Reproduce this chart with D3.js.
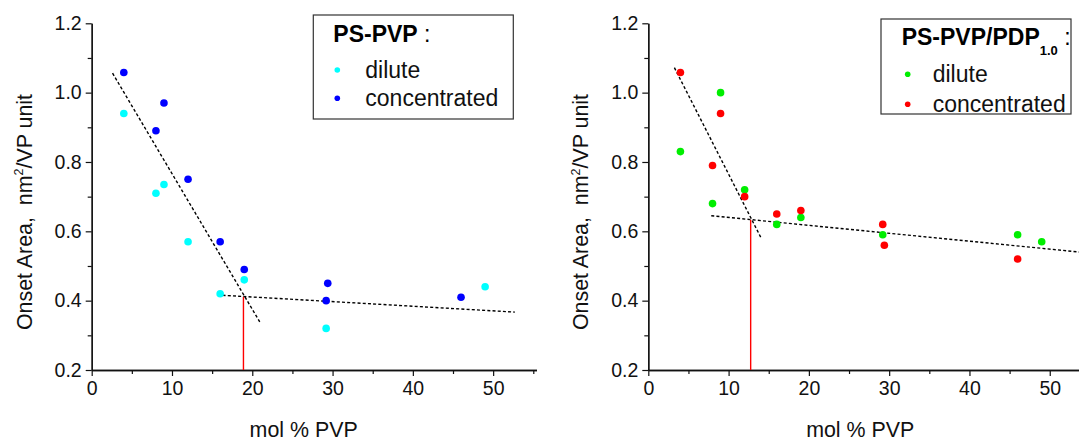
<!DOCTYPE html>
<html>
<head>
<meta charset="utf-8">
<script src="https://cdn.jsdelivr.net/npm/d3@7"></script>
<style>
  html, body { margin: 0; padding: 0; background: #fff; }
  svg { display: block; font-family: "Liberation Sans", Arial, Helvetica, sans-serif; }
  text { white-space: pre; }
</style>
</head>
<body>
<svg id="chart" width="1079" height="442"></svg>
<script>
// Tick values
const xMajorTicks = [0, 10, 20, 30, 40, 50];
const xMinorTicks = [5, 15, 25, 35, 45, 55];
const yMajorTicks = [0.2, 0.4, 0.6, 0.8, 1.0, 1.2];
const yMinorTicks = [0.3, 0.5, 0.7, 0.9, 1.1];

// PS-PVP: onset area vs. mol % PVP
const psDiluteX = [4, 8, 9, 12, 16, 19, 29.2, 49];
const psDiluteY = [0.94, 0.71, 0.735, 0.57, 0.42, 0.46, 0.32, 0.44];
const psConcX = [4, 8, 9, 12, 16, 19, 29.4, 29.2, 46];
const psConcY = [1.058, 0.89, 0.97, 0.75, 0.57, 0.49, 0.45, 0.40, 0.41];
const psSteepFit = [[2.6, 1.056], [21.0, 0.336]];
const psShallowFit = [[16.3, 0.4155], [52.7, 0.367]];
const psOnset = [18.9, 0.411];

// PS-PVP/PDP1.0: onset area vs. mol % PVP
const pdpDiluteX = [4, 8, 9, 12, 16, 19, 29.2, 46, 49];
const pdpDiluteY = [0.83, 0.68, 1.0, 0.72, 0.62, 0.64, 0.59, 0.59, 0.57];
const pdpConcX = [4, 8, 9, 12, 16, 19, 29.2, 29.4, 46];
const pdpConcY = [1.058, 0.79, 0.94, 0.70, 0.65, 0.66, 0.62, 0.56, 0.52];
const pdpSteepFit = [[3.25, 1.072], [14.0, 0.583]];
const pdpShallowFit = [[7.84, 0.645], [56, 0.535]];
const pdpOnset = [12.75, 0.633];

const svg = d3.select("#chart");
const FONT = '"Liberation Sans", Arial, Helvetica, sans-serif';

const xDomain = [0, 55.4];
const plotWidth = 444.8;   // px spanned by xDomain
const yTop = 23.3, yBottom = 370;

function drawPanel(cfg) {
  const x = d3.scaleLinear().domain(xDomain).range([cfg.left, cfg.left + plotWidth]);
  const y = d3.scaleLinear().domain([0.2, 1.2]).range([yBottom, yTop]);
  const g = svg.append("g");

  // y axis: major + minor ticks
  g.append("g").attr("transform", `translate(${cfg.left},0)`)
    .call(d3.axisLeft(y).tickValues(yMajorTicks).tickSize(6).tickSizeOuter(0)
      .tickPadding(4).tickFormat(d3.format(".1f")));
  g.append("g").attr("transform", `translate(${cfg.left},0)`)
    .call(d3.axisLeft(y).tickValues(yMinorTicks).tickSize(4).tickSizeOuter(0).tickFormat(""));

  // x axis: major + minor ticks
  g.append("g").attr("transform", `translate(0,${yBottom})`)
    .call(d3.axisBottom(x).tickValues(xMajorTicks).tickSize(6).tickSizeOuter(0)
      .tickPadding(5).tickFormat(d3.format("d")));
  g.append("g").attr("transform", `translate(0,${yBottom})`)
    .call(d3.axisBottom(x).tickValues(xMinorTicks).tickSize(4).tickSizeOuter(0).tickFormat(""));

  g.selectAll(".domain").attr("stroke", "#111").attr("stroke-width", 1.3);
  g.selectAll(".tick line").attr("stroke", "#111").attr("stroke-width", 1.2);
  g.selectAll(".tick text").attr("font-family", FONT).attr("font-size", 19.5).attr("fill", "#111");

  // fitted trend lines
  const line = d3.line().x(d => x(d[0])).y(d => y(d[1]));
  [cfg.steep, cfg.shallow].forEach(seg => {
    g.append("path").attr("d", line(seg)).attr("fill", "none")
      .attr("stroke", "#000").attr("stroke-width", 1.4).attr("stroke-dasharray", "3,2.2");
  });

  // onset marker: vertical red line from the x axis to the intersection
  g.append("line")
    .attr("x1", x(cfg.onset[0])).attr("x2", x(cfg.onset[0]))
    .attr("y1", y(0.2)).attr("y2", y(cfg.onset[1]))
    .attr("stroke", "#ff0000").attr("stroke-width", 1.4);

  // data points
  cfg.series.forEach(s => {
    g.selectAll(null).data(d3.zip(s.xs, s.ys)).join("circle")
      .attr("cx", d => x(d[0])).attr("cy", d => y(d[1]))
      .attr("r", 3.8).attr("fill", s.color);
  });

  // axis titles
  g.append("text")
    .attr("x", x(26.4)).attr("y", 437)
    .attr("text-anchor", "middle").attr("font-family", FONT)
    .attr("font-size", 21.4).attr("fill", "#111").text("mol % PVP");

  const yt = g.append("text")
    .attr("transform", `translate(${cfg.left - 60},212) rotate(-90)`)
    .attr("text-anchor", "middle").attr("font-family", FONT)
    .attr("font-size", 21.4).attr("fill", "#111");
  yt.append("tspan").text("Onset Area,  nm");
  yt.append("tspan").attr("font-size", 12.5).attr("dy", -8.5).text("2");
  yt.append("tspan").attr("dy", 8.5).text("/VP unit");

  // legend
  const L = cfg.legend;
  const lg = g.append("g");
  lg.append("rect").attr("x", L.x).attr("y", L.y).attr("width", L.w).attr("height", L.h)
    .attr("fill", "#fff").attr("stroke", "#333").attr("stroke-width", 1.2);
  const title = lg.append("text").attr("x", L.x + L.titleDx).attr("y", L.y + L.titleDy)
    .attr("font-family", FONT).attr("font-size", 23).attr("font-weight", "bold").attr("fill", "#000");
  title.append("tspan").text(cfg.title);
  if (cfg.titleSub) {
    title.append("tspan").attr("font-size", 13).attr("dy", 10).text(cfg.titleSub);
    title.append("tspan").attr("dy", -10).attr("font-weight", "normal").text(" :");
  } else {
    title.append("tspan").attr("font-weight", "normal").text(" :");
  }
  cfg.series.forEach((s, i) => {
    const cy = L.y + L.row0 + i * L.rowGap;
    lg.append("circle").attr("cx", L.x + L.dotDx).attr("cy", cy).attr("r", 2.8).attr("fill", s.color);
    lg.append("text").attr("x", L.x + L.textDx).attr("y", cy + 7.5)
      .attr("font-family", FONT).attr("font-size", 23).attr("fill", "#111").text(s.name);
  });
}

drawPanel({
  left: 91.7,
  title: "PS-PVP",
  series: [
    { name: "dilute", xs: psDiluteX, ys: psDiluteY, color: "#00ffff" },
    { name: "concentrated", xs: psConcX, ys: psConcY, color: "#0000ff" }
  ],
  steep: psSteepFit, shallow: psShallowFit, onset: psOnset,
  legend: { x: 313.3, y: 15, w: 200, h: 104, titleDx: 20, titleDy: 27, dotDx: 24, textDx: 52, row0: 55, rowGap: 28.3 }
});

drawPanel({
  left: 648.3,
  title: "PS-PVP/PDP",
  titleSub: "1.0",
  series: [
    { name: "dilute", xs: pdpDiluteX, ys: pdpDiluteY, color: "#00ee00" },
    { name: "concentrated", xs: pdpConcX, ys: pdpConcY, color: "#ff0000" }
  ],
  steep: pdpSteepFit, shallow: pdpShallowFit, onset: pdpOnset,
  legend: { x: 881, y: 19, w: 190, h: 95, titleDx: 20.7, titleDy: 26, dotDx: 26.7, textDx: 51.7, row0: 55.3, rowGap: 30 }
});
</script>
</body>
</html>
